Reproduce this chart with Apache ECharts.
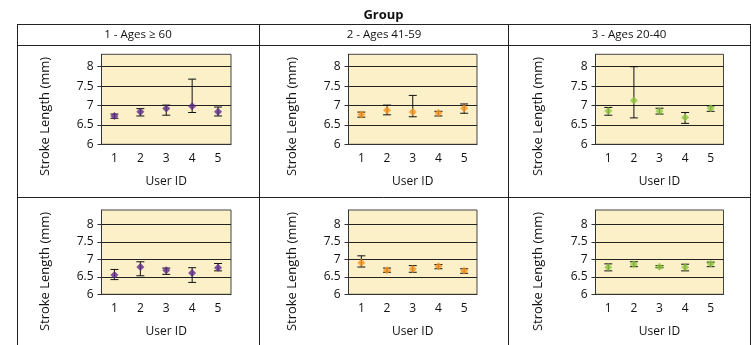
<!DOCTYPE html>
<html><head><meta charset="utf-8">
<script src="https://cdn.jsdelivr.net/npm/echarts@6/dist/echarts.min.js"></script>
<style>html,body{margin:0;background:#fff}#c{width:751px;height:345px}</style>
</head><body><div id="c"></div>
<script>
const userIds = ['1', '2', '3', '4', '5'];
const yTickValues = [6, 6.5, 7, 7.5, 8];
const groupNames = ['1 - Ages \u2265 60', '2 - Ages 41-59', '3 - Ages 20-40'];
const headerTitle = 'Group';
const yAxisTitle = 'Stroke Length (mm)';
const xAxisTitle = 'User ID';
const groupColors = ['#5C2A8D', '#F7941D', '#8DC63F'];

// Row 1
const g1r1Mean = [6.73, 6.84, 6.92, 6.98, 6.84];
const g1r1Low  = [6.67, 6.73, 6.75, 6.82, 6.73];
const g1r1High = [6.78, 6.92, 7.01, 7.68, 6.96];
const g2r1Mean = [6.77, 6.88, 6.83, 6.81, 6.93];
const g2r1Low  = [6.70, 6.76, 6.71, 6.73, 6.80];
const g2r1High = [6.83, 7.01, 7.26, 6.85, 7.04];
const g3r1Mean = [6.86, 7.13, 6.86, 6.69, 6.93];
const g3r1Low  = [6.75, 6.68, 6.78, 6.54, 6.85];
const g3r1High = [6.95, 8.00, 6.93, 6.82, 6.99];
// Row 2
const g1r2Mean = [6.55, 6.78, 6.69, 6.61, 6.76];
const g1r2Low  = [6.42, 6.53, 6.57, 6.34, 6.67];
const g1r2High = [6.71, 6.93, 6.75, 6.76, 6.88];
const g2r2Mean = [6.90, 6.69, 6.72, 6.80, 6.67];
const g2r2Low  = [6.78, 6.63, 6.63, 6.73, 6.60];
const g2r2High = [7.10, 6.75, 6.82, 6.85, 6.73];
const g3r2Mean = [6.77, 6.86, 6.79, 6.77, 6.87];
const g3r2Low  = [6.67, 6.79, 6.76, 6.67, 6.79];
const g3r2High = [6.87, 6.93, 6.82, 6.86, 6.92];

const panels = [
  [g1r1Mean, g1r1Low, g1r1High], [g2r1Mean, g2r1Low, g2r1High], [g3r1Mean, g3r1Low, g3r1High],
  [g1r2Mean, g1r2Low, g1r2High], [g2r2Mean, g2r2Low, g2r2High], [g3r2Mean, g3r2Low, g3r2High]
];

const FONT = '"Open Sans", sans-serif';
const colLeft = [101.5, 348.5, 595.5];
const colWidth = [129.5, 128.5, 128];
const rowTop = [54.3, 210];
const rowHeight = [90, 84.3];
const rowMax = [8.32, 8.41];

const grids = [], xAxes = [], yAxes = [], series = [];
panels.forEach((p, i) => {
  const r = Math.floor(i / 3), c = i % 3;
  grids.push({left: colLeft[c], top: rowTop[r], width: colWidth[c], height: rowHeight[r],
    show: true, backgroundColor: '#FCF0C9', borderColor: '#444', borderWidth: 1, containLabel: false});
  xAxes.push({type: 'category', gridIndex: i, data: userIds, boundaryGap: true,
    axisLine: {show: true, lineStyle: {color: '#333'}}, axisTick: {show: false},
    axisLabel: {margin: 8, fontSize: 12, color: '#111', fontFamily: FONT},
    name: xAxisTitle, nameLocation: 'middle', nameGap: 31,
    nameTextStyle: {fontSize: 12, color: '#111', fontFamily: FONT}});
  yAxes.push({type: 'value', gridIndex: i, min: 6, max: rowMax[r], interval: 0.5,
    axisLine: {show: true, lineStyle: {color: '#333'}},
    axisTick: {show: true, length: 4, customValues: yTickValues, lineStyle: {color: '#333'}},
    axisLabel: {customValues: yTickValues, margin: 8, fontSize: 12, color: '#111', fontFamily: FONT,
      formatter: v => String(v)},
    splitLine: {show: true, lineStyle: {color: '#222', width: 1}}});
  const [mean, low, high] = p;
  series.push({type: 'custom', xAxisIndex: i, yAxisIndex: i, z: 2,
    data: userIds.map((u, k) => [k, low[k], high[k]]),
    encode: {x: 0, y: [1, 2]},
    renderItem: (params, api) => {
      const x = api.value(0);
      const a = api.coord([x, api.value(2)]);
      const b = api.coord([x, api.value(1)]);
      const w = 4;
      const st = {stroke: '#111', lineWidth: 1};
      return {type: 'group', children: [
        {type: 'line', shape: {x1: a[0], y1: a[1], x2: b[0], y2: b[1]}, style: st},
        {type: 'line', shape: {x1: a[0] - w, y1: a[1], x2: a[0] + w, y2: a[1]}, style: st},
        {type: 'line', shape: {x1: b[0] - w, y1: b[1], x2: b[0] + w, y2: b[1]}, style: st}
      ]};
    }});
  series.push({type: 'scatter', xAxisIndex: i, yAxisIndex: i, z: 3,
    symbol: 'diamond', symbolSize: 8, itemStyle: {color: groupColors[c]},
    data: mean});
});

const graphics = [];
const hLine = (x1, x2, y) => ({type: 'line', shape: {x1, y1: y, x2, y2: y}, style: {stroke: '#222', lineWidth: 1}, silent: true});
const vLine = (x, y1, y2) => ({type: 'line', shape: {x1: x, y1, x2: x, y2}, style: {stroke: '#222', lineWidth: 1}, silent: true});
graphics.push(hLine(17, 750.5, 24.5), hLine(17, 750.5, 45.5), hLine(17, 750.5, 197.5));
[17.5, 259.5, 508.5, 750.5].forEach(x => graphics.push(vLine(x, 24, 345)));
graphics.push({type: 'text', x: 383.5, y: 15, style: {text: headerTitle, align: 'center', verticalAlign: 'middle',
  font: 'bold 13px ' + FONT, fill: '#111'}});
const colCenter = [138, 384, 629];
groupNames.forEach((g, k) => graphics.push({type: 'text', x: colCenter[k], y: 35, style: {text: g,
  align: 'center', verticalAlign: 'middle', font: '11.5px ' + FONT, fill: '#111'}}));
const yTitleX = [45, 292, 538], yTitleY = [116.5, 271.5];
yTitleY.forEach(yy => yTitleX.forEach(xx => graphics.push({type: 'text', x: xx, y: yy, rotation: Math.PI / 2,
  style: {text: yAxisTitle, align: 'center', verticalAlign: 'middle', font: '13px ' + FONT, fill: '#111'}})));

const chart = echarts.init(document.getElementById('c'), null, {renderer: 'canvas'});
chart.setOption({animation: false, backgroundColor: '#fff', grid: grids, xAxis: xAxes, yAxis: yAxes,
  series: series, graphic: graphics});
</script></body></html>
